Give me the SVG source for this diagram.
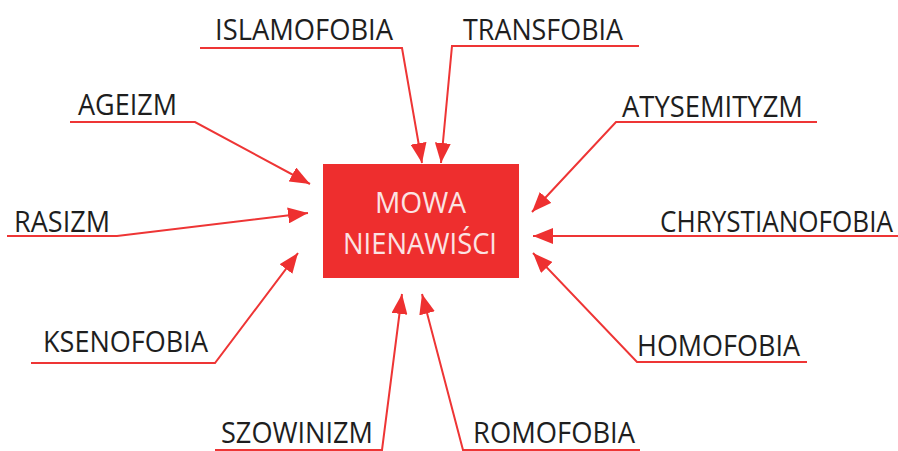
<svg xmlns="http://www.w3.org/2000/svg" width="898" height="451" viewBox="0 0 898 451">
<style>
.lbl{font-family:"Open Sans","Liberation Sans",sans-serif;font-size:30px;fill:#1e1e1e}
.ctr{font-family:"Open Sans","Liberation Sans",sans-serif;font-size:29px;fill:#fbe3e3;text-anchor:middle}
.ln{fill:none;stroke:#ee3535;stroke-width:2;stroke-linejoin:miter}
</style>
<defs>
<marker id="ah" markerUnits="userSpaceOnUse" markerWidth="20" markerHeight="16" refX="20" refY="8" orient="auto" viewBox="0 0 20 16">
<path d="M0,0 L20,8 L0,16 z" fill="#ee3030"/>
</marker>
</defs>
<rect width="898" height="451" fill="#ffffff"/>
<g id="connectors">
<path class="ln" d="M200,48 L402,48 L422,163" marker-end="url(#ah)"/>
<path class="ln" d="M639,46 L452,46 L441,163" marker-end="url(#ah)"/>
<path class="ln" d="M70,122 L195,122 L310,184" marker-end="url(#ah)"/>
<path class="ln" d="M7,236 L117,236 L308,213" marker-end="url(#ah)"/>
<path class="ln" d="M31,363 L215,363 L298,253" marker-end="url(#ah)"/>
<path class="ln" d="M817,122 L616,122 L532,212" marker-end="url(#ah)"/>
<path class="ln" d="M898,236 L533,236" marker-end="url(#ah)"/>
<path class="ln" d="M807,362 L637,362 L533,253" marker-end="url(#ah)"/>
<path class="ln" d="M215,450 L382,450 L402,294" marker-end="url(#ah)"/>
<path class="ln" d="M640,450 L463,450 L422,294" marker-end="url(#ah)"/>
</g>
<g id="center">
<rect x="323" y="164" width="196" height="114" fill="#ee2e2e"/>
<text class="ctr" x="420.5" y="213" textLength="91" lengthAdjust="spacingAndGlyphs">MOWA</text>
<text class="ctr" x="420" y="254" textLength="154" lengthAdjust="spacingAndGlyphs">NIENAWIŚCI</text>
</g>
<g id="islamofobia"><text class="lbl" x="215" y="40" textLength="178" lengthAdjust="spacingAndGlyphs">ISLAMOFOBIA</text></g>
<g id="transfobia"><text class="lbl" x="463" y="40" textLength="160" lengthAdjust="spacingAndGlyphs">TRANSFOBIA</text></g>
<g id="ageizm"><text class="lbl" x="78" y="115" textLength="99" lengthAdjust="spacingAndGlyphs">AGEIZM</text></g>
<g id="rasizm"><text class="lbl" x="14" y="232" textLength="96" lengthAdjust="spacingAndGlyphs">RASIZM</text></g>
<g id="ksenofobia"><text class="lbl" x="43" y="352" textLength="165" lengthAdjust="spacingAndGlyphs">KSENOFOBIA</text></g>
<g id="atysemityzm"><text class="lbl" x="622" y="117" textLength="181" lengthAdjust="spacingAndGlyphs">ATYSEMITYZM</text></g>
<g id="chrystianofobia"><text class="lbl" transform="translate(660,232) scale(0.85,1)" x="0" y="0" textLength="274" lengthAdjust="spacingAndGlyphs">CHRYSTIANOFOBIA</text></g>
<g id="homofobia"><text class="lbl" x="637" y="356" textLength="163" lengthAdjust="spacingAndGlyphs">HOMOFOBIA</text></g>
<g id="szowinizm"><text class="lbl" x="221" y="443" textLength="152" lengthAdjust="spacingAndGlyphs">SZOWINIZM</text></g>
<g id="romofobia"><text class="lbl" x="473" y="443" textLength="162" lengthAdjust="spacingAndGlyphs">ROMOFOBIA</text></g>
</svg>
